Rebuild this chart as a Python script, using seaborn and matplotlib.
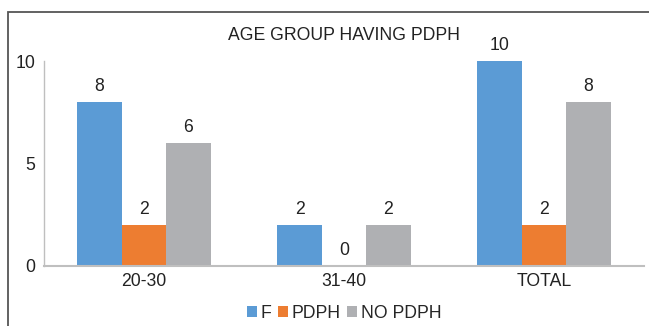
import matplotlib
matplotlib.use("Agg")
import matplotlib.pyplot as plt
import seaborn as sns
import pandas as pd
from matplotlib.patches import Rectangle

categories = ["20-30", "31-40", "TOTAL"]
series_names = ["F", "PDPH", "NO PDPH"]
f_vals = [8, 2, 10]
pdph_vals = [2, 0, 2]
no_pdph_vals = [6, 2, 8]
colors = ["#5B9BD5", "#ED7D31", "#AFB0B3"]

df = pd.DataFrame({
    "group": categories * 3,
    "series": [s for s in series_names for _ in categories],
    "value": f_vals + pdph_vals + no_pdph_vals,
})

sns.set_theme(style="white")
plt.rcParams["font.family"] = ["Liberation Sans", "DejaVu Sans"]
fs = 12.7

fig = plt.figure(figsize=(6.49, 3.26), dpi=100)
ax = fig.add_axes([44 / 649, 1 - 266 / 326, 600 / 649, 205 / 326])

sns.barplot(data=df, x="group", y="value", hue="series", palette=colors,
            width=0.667, gap=0, saturation=1, linewidth=0, ax=ax, legend=True)

for cont in ax.containers:
    ax.bar_label(cont, fmt="%d", padding=5, fontsize=fs, color="#222222")

ax.set_xlim(-0.5, 2.5)
ax.set_ylim(0, 10)
ax.set_yticks([0, 5, 10])
ax.set_xlabel("")
ax.set_ylabel("")
ax.tick_params(axis="both", length=0, labelsize=fs, colors="#222222")
ax.tick_params(axis="y", pad=6)
ax.tick_params(axis="x", pad=5)
for side in ["top", "right"]:
    ax.spines[side].set_visible(False)
ax.spines["left"].set_color("#BFBFBF")
ax.spines["left"].set_linewidth(1.0)
ax.spines["bottom"].set_color("#BFBFBF")
ax.spines["bottom"].set_linewidth(1.5)

handles, labels = ax.get_legend_handles_labels()
ax.legend_.remove()
fig.legend(handles, labels, loc="center", bbox_to_anchor=(344 / 649, 1 - 313 / 326),
           ncol=3, frameon=False, fontsize=fs, handlelength=0.55, handleheight=0.55,
           handletextpad=0.2, columnspacing=0.4)

fig.text(344 / 649, 1 - 35 / 326, "AGE GROUP HAVING PDPH", ha="center", va="center",
         fontsize=fs, color="#222222")

fig.patches.append(Rectangle((8 / 649, -0.1), 1.2, 1 - 12 / 326 + 0.1,
                             transform=fig.transFigure, fill=False,
                             edgecolor="#555555", linewidth=1.3))

fig.savefig("out.png", dpi=100)
